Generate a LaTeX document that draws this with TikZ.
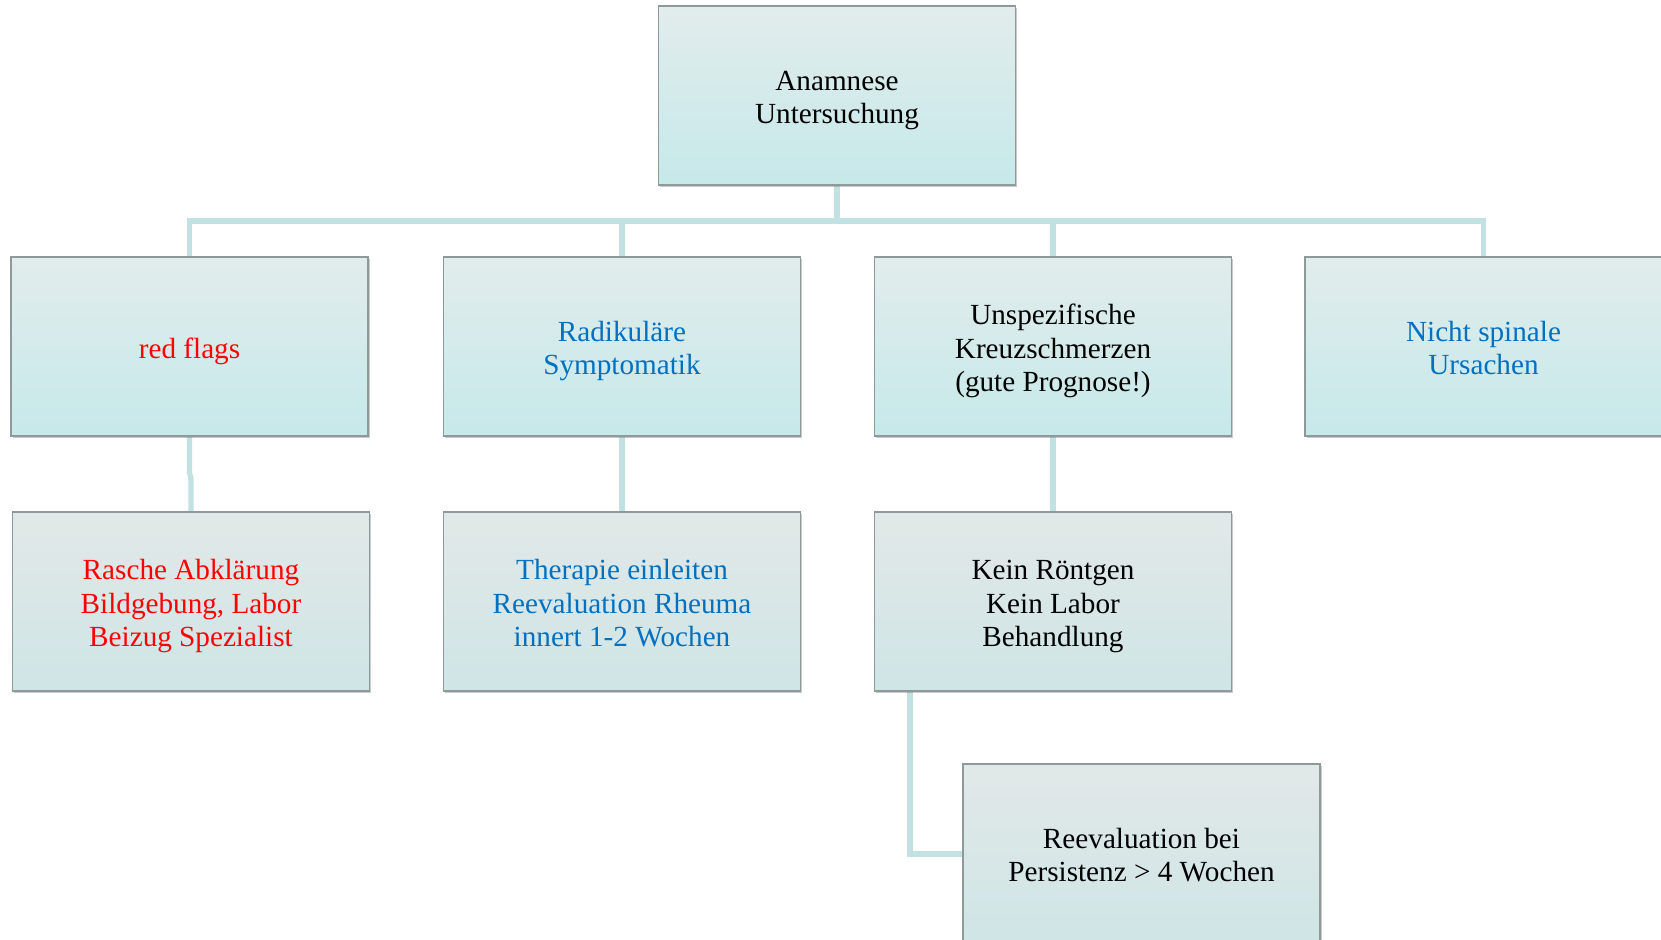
\documentclass[tikz,border=0pt]{standalone}
\usepackage{fontspec}
\setmainfont{Liberation Serif}
\usetikzlibrary{shadows}
\definecolor{bordercol}{HTML}{8E9A9A}
\definecolor{conncol}{HTML}{C2E1E3}
\definecolor{topA}{HTML}{E2ECEC}
\definecolor{botA}{HTML}{C6E9EA}
\definecolor{topB}{HTML}{E2E8E8}
\definecolor{botB}{HTML}{CFE5E6}
\definecolor{redtxt}{HTML}{FF0000}
\definecolor{bluetxt}{HTML}{0070C0}
\newcommand\boxtext[1]{\raisebox{-2.4pt}[\height][\depth]{\begin{tabular}{@{}c@{}}#1\end{tabular}}}
\tikzset{
  box/.style={draw=bordercol, line width=0.7pt, minimum width=178.5pt, minimum height=89.5pt,
    font=\fontsize{14.6}{16.9}\selectfont, inner sep=2pt,
    drop shadow={shadow xshift=0.8pt, shadow yshift=-1.2pt, opacity=0.35, fill=black!60}},
  boxA/.style={box, top color=topA, bottom color=botA},
  boxB/.style={box, top color=topB, bottom color=botB},
  conn/.style={draw=conncol, line width=2.6pt}
}
\begin{document}
\begin{tikzpicture}[x=0.5pt, y=-0.5pt]
\useasboundingbox (0,0) rectangle (1661,940);
\clip (0,0) rectangle (1661,940);
\coordinate (bus) at (837,221);
\coordinate (elbow) at (910,854);
% connectors (drawn under the boxes)
\draw[conn] (837,185) -- (bus);
\draw[conn] (bus) -| (189.5,257);
\draw[conn] (bus) -| (622,257);
\draw[conn] (bus) -| (1053,257);
\draw[conn] (bus) -| (1483.5,257);
\draw[conn] (189.5,436) -- (189.5,473) -- (191,478) -- (191,512);
\draw[conn] (622,436) -- (622,512);
\draw[conn] (1053,436) -- (1053,512);
\draw[conn] (910,691) -- (elbow) -- (963,854);
% boxes
\node[boxA] (top) at (837,95.5) {\boxtext{Anamnese\\Untersuchung}};
\node[boxA, text=redtxt] (rf) at (189.5,346.5) {\boxtext{red flags}};
\node[boxA, text=bluetxt] (rs) at (622,346.5) {\boxtext{Radikuläre\\Symptomatik}};
\node[boxA] (uk) at (1053,346.5) {\boxtext{Unspezifische\\Kreuzschmerzen\\(gute Prognose!)}};
\node[boxA, text=bluetxt] (ns) at (1483.5,346.5) {\boxtext{Nicht spinale\\Ursachen}};
\node[boxB, text=redtxt] (ra) at (191,601.5) {\boxtext{Rasche Abklärung\\Bildgebung, Labor\\Beizug Spezialist}};
\node[boxB, text=bluetxt] (te) at (622,601.5) {\boxtext{Therapie einleiten\\Reevaluation Rheuma\\innert 1-2 Wochen}};
\node[boxB] (kr) at (1053,601.5) {\boxtext{Kein Röntgen\\Kein Labor\\Behandlung}};
\node[boxB] (re) at (1141.5,853.5) {\boxtext{Reevaluation bei\\Persistenz > 4 Wochen}};
\end{tikzpicture}
\end{document}
